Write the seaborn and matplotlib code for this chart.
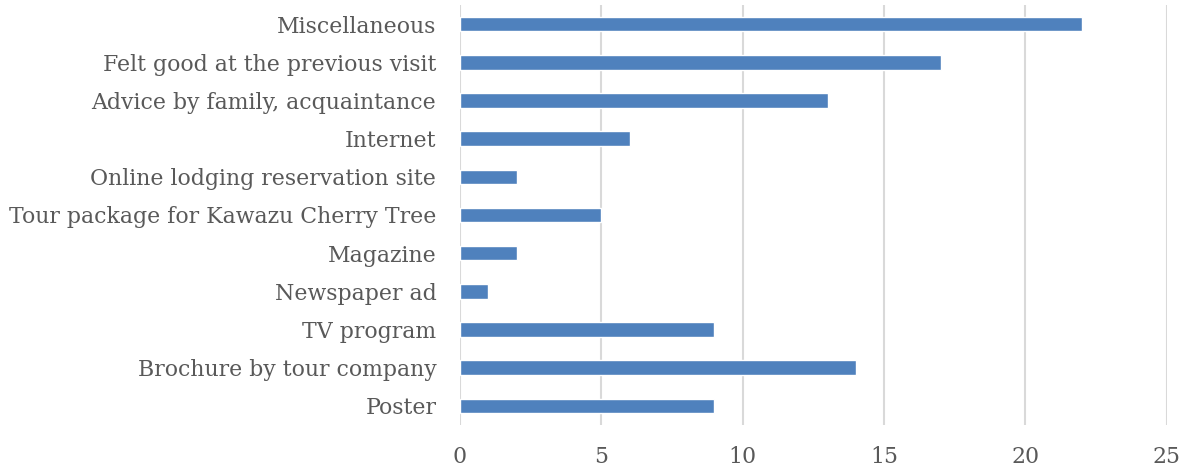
import matplotlib
matplotlib.use("Agg")
import matplotlib.pyplot as plt
import seaborn as sns
import pandas as pd

# categories top to bottom, as shown
categories = [
    "Miscellaneous",
    "Felt good at the previous visit",
    "Advice by family, acquaintance",
    "Internet",
    "Online lodging reservation site",
    "Tour package for Kawazu Cherry Tree",
    "Magazine",
    "Newspaper ad",
    "TV program",
    "Brochure by tour company",
    "Poster",
]
counts = [22, 17, 13, 6, 2, 5, 2, 1, 9, 14, 9]
x_ticks = [0, 5, 10, 15, 20, 25]

df = pd.DataFrame({"reason": categories, "count": counts})

sns.set_style("white")
plt.rcParams["font.family"] = ["DejaVu Serif"]

fig = plt.figure(figsize=(11.87, 4.71), dpi=100)
ax = fig.add_axes([0.3875, 0.0977, 0.5955, 0.8917])

sns.barplot(data=df, x="count", y="reason", order=categories, orient="h",
            color="#4F81BD", saturation=1, width=0.38, ax=ax)

ax.set_xlim(0, 25)
ax.set_ylim(len(categories) - 0.5, -0.5)
ax.set_xticks(x_ticks)
ax.set_xticklabels([str(t) for t in x_ticks])
ax.grid(axis="x", color="#D9D9D9", linewidth=1.5)
ax.set_axisbelow(True)
for s in ax.spines.values():
    s.set_visible(False)
ax.tick_params(axis="both", length=0, labelsize=15.8, colors="#595959")
ax.tick_params(axis="x", pad=15)
ax.tick_params(axis="y", pad=17)
ax.set_xlabel("")
ax.set_ylabel("")

fig.savefig("out.png", dpi=100)
